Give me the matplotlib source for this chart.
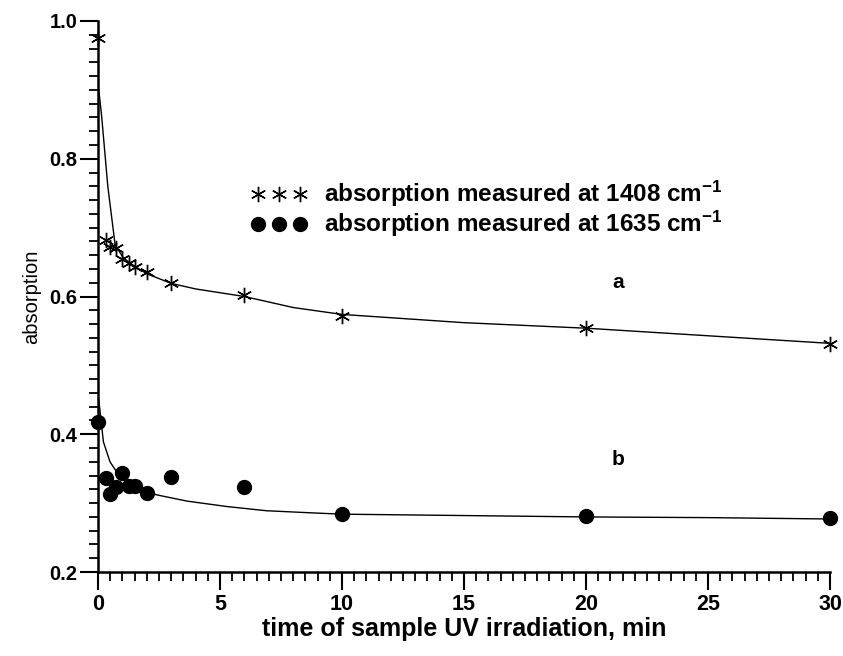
import matplotlib
matplotlib.use("Agg")
import matplotlib.pyplot as plt
from matplotlib.ticker import MultipleLocator

plt.rcParams["font.family"] = ["Liberation Sans", "DejaVu Sans"]
plt.rcParams["mathtext.fontset"] = "custom"
plt.rcParams["mathtext.bf"] = "Liberation Sans:bold"
plt.rcParams["mathtext.rm"] = "Liberation Sans"
plt.rcParams["mathtext.default"] = "bf"

# measured points, time in min
time = [0, 0.33, 0.5, 0.75, 1.0, 1.25, 1.5, 2, 3, 6, 10, 20, 30]
abs_1408 = [0.975, 0.682, 0.672, 0.670, 0.655, 0.648, 0.643, 0.636, 0.619, 0.602, 0.572, 0.554, 0.531]
abs_1635 = [0.418, 0.337, 0.314, 0.323, 0.344, 0.325, 0.325, 0.315, 0.338, 0.323, 0.284, 0.281, 0.278]

# fitted curves
fit_t_a = [0.03, 0.15, 0.4, 0.7, 1.0, 1.25, 1.5, 2, 3, 4, 6, 8, 10, 15, 20, 25, 30]
fit_a = [0.90, 0.861, 0.76, 0.675, 0.658, 0.650, 0.644, 0.633, 0.619, 0.611, 0.600,
         0.584, 0.574, 0.562, 0.554, 0.543, 0.532]
fit_t_b = [0.03, 0.22, 0.49, 0.9, 1.59, 2.41, 3.64, 5.3, 6.9, 8.7, 10, 15, 20, 25, 30]
fit_b = [0.45, 0.389, 0.360, 0.338, 0.322, 0.312, 0.303, 0.295, 0.289, 0.286, 0.284,
         0.282, 0.280, 0.279, 0.277]

fig = plt.figure(figsize=(8.43, 6.56), dpi=100)
ax = fig.add_axes([0.1163, 0.128, 0.8683, 0.840])

ax.plot(fit_t_a, fit_a, color="black", lw=1.0)
ax.plot(fit_t_b, fit_b, color="black", lw=1.0)
ax.plot(time, abs_1408, ls="none", marker=(6, 2, 0), ms=11, mew=1.0, color="black",
        clip_on=False, label="absorption measured at 1408 cm$^{-1}$")
ax.plot(time, abs_1635, ls="none", marker="o", ms=10, color="black",
        clip_on=False, label="absorption measured at 1635 cm$^{-1}$")

ax.text(21.3, 0.620, "a", fontsize=15, fontweight="bold", ha="center", va="center")
ax.text(21.3, 0.363, "b", fontsize=15, fontweight="bold", ha="center", va="center")

ax.set_xlim(0, 30)
ax.set_ylim(0.2, 1.0)
ax.xaxis.set_major_locator(MultipleLocator(5))
ax.xaxis.set_minor_locator(MultipleLocator(0.5))
ax.yaxis.set_major_locator(MultipleLocator(0.2))
ax.yaxis.set_minor_locator(MultipleLocator(0.02))
ax.yaxis.set_major_formatter(plt.FormatStrFormatter("%.1f"))

for s in ("top", "right"):
    ax.spines[s].set_visible(False)
for s in ("left", "bottom"):
    ax.spines[s].set_linewidth(1.8)

ax.tick_params(which="major", direction="out", length=13, width=1.5)
ax.tick_params(which="minor", direction="out", length=6.5, width=1.3)
ax.tick_params(axis="x", which="major", labelsize=15.5, pad=3)
ax.tick_params(axis="y", which="major", labelsize=14.5, pad=2)
for lab in ax.get_xticklabels() + ax.get_yticklabels():
    lab.set_fontweight("bold")

ax.set_xlabel("time of sample UV irradiation, min", fontsize=18, fontweight="bold", labelpad=1)
ax.set_ylabel("absorption", fontsize=14.5, labelpad=6)

leg = ax.legend(loc="upper left", bbox_to_anchor=(251 / 843, 1 - 179 / 656),
                bbox_transform=fig.transFigure, frameon=False, numpoints=3,
                handlelength=2.3, handletextpad=0.7, labelspacing=0.0,
                borderpad=0, borderaxespad=0,
                prop={"weight": "bold", "size": 17.5})

fig.savefig("out.png", dpi=100)
